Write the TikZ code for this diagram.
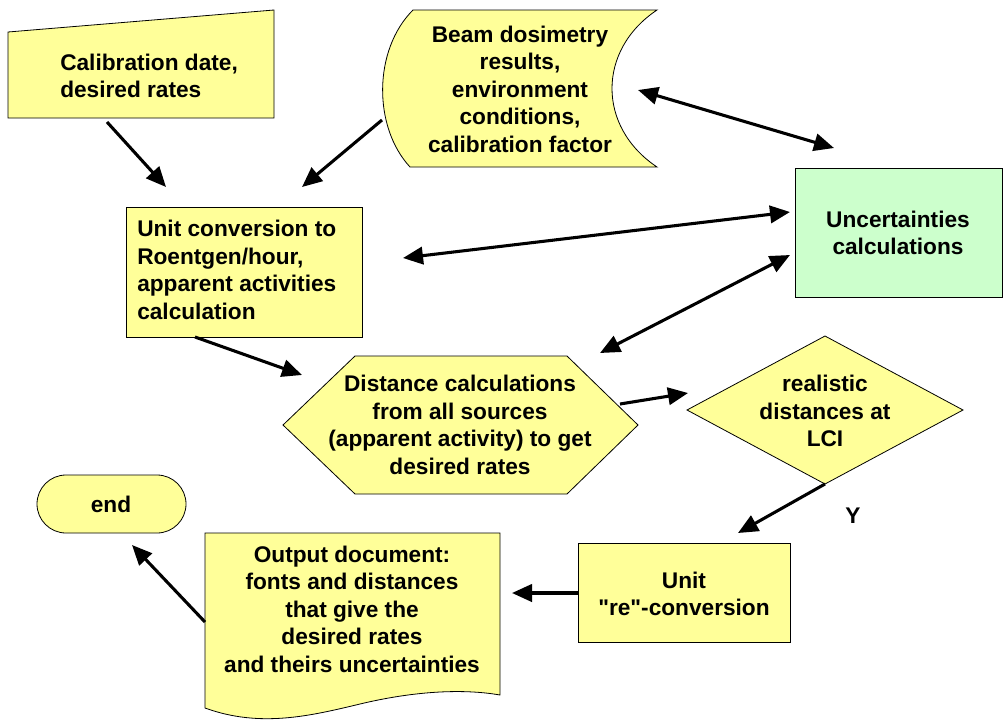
\documentclass[tikz,border=0pt]{standalone}
\usepackage{fontspec}
\setmainfont{Liberation Sans}
\usetikzlibrary{arrows.meta}
\newcommand\straightq{\XeTeXglyph\XeTeXcharglyph34\relax}
\definecolor{fillY}{HTML}{FFFF99}
\definecolor{fillG}{HTML}{CCFFCC}
\tikzset{
  shapebox/.style={draw=black, line width=0.6pt, fill=fillY},
  greenbox/.style={draw=black, line width=0.6pt, fill=fillG},
  txt/.style={font=\fontsize{17}{20.6}\selectfont\bfseries, inner sep=0pt, align=center},
  arr/.style={line width=2.3pt, -{Triangle[length=15pt,width=13pt]}},
  darr/.style={line width=2.3pt, {Triangle[length=15pt,width=13pt]}-{Triangle[length=15pt,width=13pt]}}
}
\begin{document}
\begin{tikzpicture}[x=0.75pt, y=-0.75pt]
\useasboundingbox (0,0) rectangle (1003,722);
% shapes
\draw[shapebox] (8,118) -- (8,32) -- (274,10) -- (274,118) -- cycle;
\draw[shapebox] (413,10) -- (657,10) .. controls (597,50) and (597,127) .. (657,167)
   -- (410,167) .. controls (373,127) and (373,50) .. cycle;
\draw[shapebox] (126,207) rectangle (362,337);
\draw[greenbox] (795,168) rectangle (1002,297);
\draw[shapebox] (283,425) -- (355,356) -- (567,356) -- (638,425) -- (567,494) -- (355,494) -- cycle;
\draw[shapebox] (825,336) -- (963,410) -- (825,484) -- (687,410) -- cycle;
\draw[shapebox] (578,543) rectangle (790,642);
\draw[shapebox] (205,708) -- (205,533) -- (500,533) -- (500,695)
   .. controls (460,688) and (410,692) .. (360,704)
   .. controls (310,716) and (260,728) .. cycle;
\draw[shapebox, rounded corners=29*0.75pt] (37,475) rectangle (186,533);
% texts
\node[txt, align=left, anchor=west] (cal) at (60,76) {Calibration date,\\desired rates};
\node[txt] (beam) at (520,89) {Beam dosimetry\\results,\\environment\\conditions,\\calibration factor};
\node[txt, align=left, anchor=west] (uconv) at (137,270) {Unit conversion to\\Roentgen/hour,\\apparent activities\\calculation};
\node[txt] (unc) at (898,233) {Uncertainties\\calculations};
\node[txt] (dist) at (460,425) {Distance calculations\\from all sources\\(apparent activity) to get\\desired rates};
\node[txt] (real) at (825,411) {realistic\\distances at\\LCI};
\node[txt] (ure) at (684,594) {Unit\\\straightq re\straightq-conversion};
\node[txt] (out) at (352,609) {Output document:\\fonts and distances\\that give the\\desired rates\\and theirs uncertainties};
\node[txt] (end) at (111,504) {end};
\node[txt] (ylab) at (853,516) {Y};
% connector end points
\coordinate (a1s) at (107,122); \coordinate (a1e) at (166,187);
\coordinate (a2s) at (382,120); \coordinate (a2e) at (302,187);
\coordinate (a3s) at (638,90);  \coordinate (a3e) at (834,148);
\coordinate (a4s) at (403,258); \coordinate (a4e) at (790,212);
\coordinate (a5s) at (600,353); \coordinate (a5e) at (790,255);
\coordinate (a6s) at (195,337); \coordinate (a6e) at (302,375);
\coordinate (a7s) at (620,404); \coordinate (a7e) at (688,393);
\coordinate (a8s) at (825,484); \coordinate (a8e) at (738,533);
\coordinate (a9s) at (578,593); \coordinate (a9e) at (512,593);
\coordinate (a10s) at (205,622); \coordinate (a10e) at (132,545);
% connectors
\draw[arr] (a1s) -- (a1e);
\draw[arr] (a2s) -- (a2e);
\draw[darr] (a3s) -- (a3e);
\draw[darr] (a4s) -- (a4e);
\draw[darr] (a5s) -- (a5e);
\draw[arr] (a6s) -- (a6e);
\draw[arr] (a7s) -- (a7e);
\draw[arr] (a8s) -- (a8e);
\draw[arr] (a9s) -- (a9e);
\draw[arr] (a10s) -- (a10e);
\end{tikzpicture}
\end{document}
